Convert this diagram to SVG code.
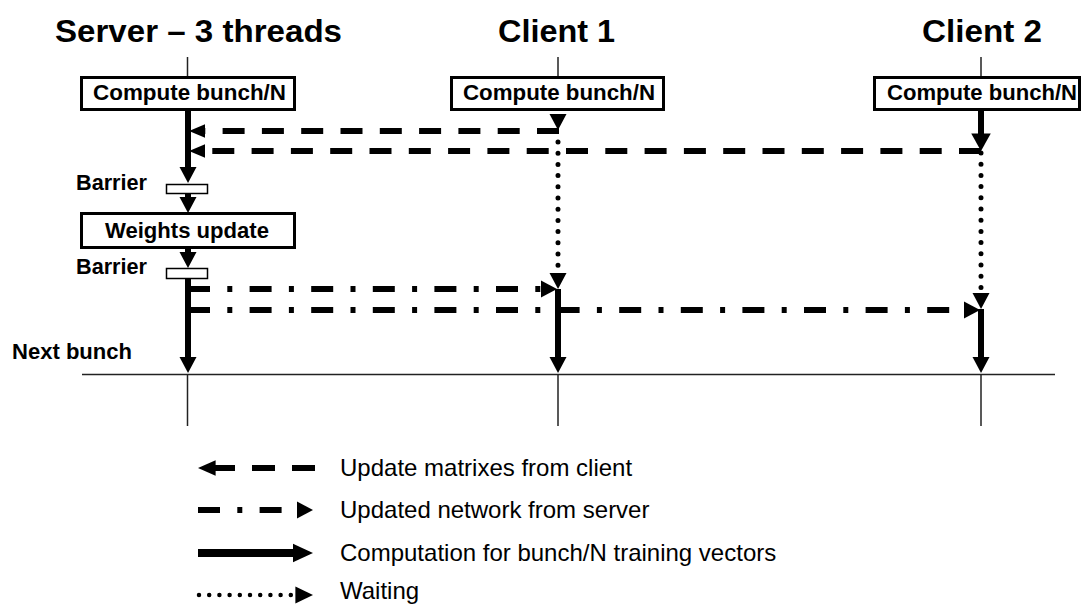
<svg xmlns="http://www.w3.org/2000/svg" xmlns:xlink="http://www.w3.org/1999/xlink" width="1082" height="605" viewBox="0 0 1082 605">
<style>
.title{font-family:"Liberation Sans",Arial,sans-serif;font-weight:bold;font-size:32px;fill:#000}
.lbl{font-family:"Liberation Sans",Arial,sans-serif;font-weight:bold;font-size:22px;fill:#000}
.leg{font-family:"Liberation Sans",Arial,sans-serif;font-size:24px;fill:#000}
.box{fill:#fff;stroke:#000;stroke-width:3}
.bar{fill:#fff;stroke:#000;stroke-width:1.5}
.thin{stroke:#222;stroke-width:1.5;fill:none}
.thick{stroke:#000;stroke-width:6;fill:none}
.dash{stroke:#000;stroke-width:6;fill:none;stroke-dasharray:22 17.3}
.dashdot{stroke:#000;stroke-width:6;fill:none;stroke-dasharray:22 17.3 5 17.3}
.dot{stroke:#000;stroke-width:5;fill:none;stroke-linecap:round;stroke-dasharray:0 11.2}
.ah{fill:#000}
</style>
<defs>
<polygon id="ah" points="0,0 -16,-8.5 -16,8.5"/>
</defs>
<rect width="1082" height="605" fill="#fff"/>

<g id="server">
<text class="title" x="55" y="42" textLength="287" lengthAdjust="spacingAndGlyphs">Server – 3 threads</text>
<line class="thin" x1="187.5" y1="57" x2="187.5" y2="78"/>
<line class="thin" x1="187.5" y1="374" x2="187.5" y2="426"/>
</g>
<g id="client1">
<text class="title" x="498" y="42" textLength="117" lengthAdjust="spacingAndGlyphs">Client 1</text>
<line class="thin" x1="558" y1="57" x2="558" y2="78"/>
<line class="thin" x1="558" y1="374" x2="558" y2="426"/>
</g>
<g id="client2">
<text class="title" x="922" y="42" textLength="120" lengthAdjust="spacingAndGlyphs">Client 2</text>
<line class="thin" x1="981" y1="57" x2="981" y2="78"/>
<line class="thin" x1="981" y1="374" x2="981" y2="426"/>
</g>

<g id="separator">
<line class="thin" x1="82" y1="374.5" x2="1055" y2="374.5"/>
<text class="lbl" x="12" y="359" textLength="120" lengthAdjust="spacingAndGlyphs">Next bunch</text>
</g>

<g id="connectors">
<line class="thick" x1="188" y1="110" x2="188" y2="170"/>
<use href="#ah" class="ah" transform="translate(188,183) rotate(90)"/>
<line class="thick" x1="188" y1="193" x2="188" y2="200"/>
<use href="#ah" class="ah" transform="translate(188,213) rotate(90)"/>
<line class="thick" x1="188" y1="248" x2="188" y2="255"/>
<use href="#ah" class="ah" transform="translate(188,268) rotate(90)"/>
<line class="thick" x1="188" y1="279" x2="188" y2="360"/>
<use href="#ah" class="ah" transform="translate(188,373) rotate(90)"/>

<line class="dash" x1="559" y1="131" x2="204" y2="131"/>
<use href="#ah" class="ah" transform="translate(189,131) rotate(180) scale(1,0.8)"/>
<line class="dash" x1="981" y1="151" x2="204" y2="151"/>
<use href="#ah" class="ah" transform="translate(189,151) rotate(180) scale(1,0.8)"/>

<use href="#ah" class="ah" transform="translate(558,130) rotate(90)"/>
<line class="dot" x1="558" y1="142" x2="558" y2="268"/>
<use href="#ah" class="ah" transform="translate(558,289) rotate(90)"/>

<line class="thick" x1="981" y1="110" x2="981" y2="138"/>
<use href="#ah" class="ah" transform="translate(981,151) rotate(90) scale(1.1,1.15)"/>
<line class="dot" x1="981" y1="153" x2="981" y2="290"/>
<use href="#ah" class="ah" transform="translate(981,309) rotate(90)"/>

<line class="dashdot" x1="188" y1="289" x2="541" y2="289"/>
<use href="#ah" class="ah" transform="translate(557,289)"/>
<line class="dashdot" x1="188" y1="310" x2="965" y2="310"/>
<use href="#ah" class="ah" transform="translate(980,310)"/>

<line class="thick" x1="558" y1="289" x2="558" y2="360"/>
<use href="#ah" class="ah" transform="translate(558,373) rotate(90)"/>
<line class="thick" x1="981" y1="309" x2="981" y2="360"/>
<use href="#ah" class="ah" transform="translate(981,373) rotate(90)"/>
</g>

<g id="server-compute">
<rect class="box" x="81.5" y="77.5" width="213" height="32"/>
<text class="lbl" x="93" y="100" textLength="193" lengthAdjust="spacingAndGlyphs">Compute bunch/N</text>
</g>
<g id="client1-compute">
<rect class="box" x="451.5" y="77.5" width="212" height="32"/>
<text class="lbl" x="463" y="100" textLength="192" lengthAdjust="spacingAndGlyphs">Compute bunch/N</text>
</g>
<g id="client2-compute">
<rect class="box" x="874.5" y="77.5" width="205" height="32"/>
<text class="lbl" x="887" y="100" textLength="190" lengthAdjust="spacingAndGlyphs">Compute bunch/N</text>
</g>
<g id="barrier1">
<rect class="bar" x="166.5" y="184.5" width="41" height="9"/>
<text class="lbl" x="76" y="190" textLength="71" lengthAdjust="spacingAndGlyphs">Barrier</text>
</g>
<g id="weights-update">
<rect class="box" x="81.5" y="213.5" width="213" height="34"/>
<text class="lbl" x="105" y="238" textLength="164" lengthAdjust="spacingAndGlyphs">Weights update</text>
</g>
<g id="barrier2">
<rect class="bar" x="166.5" y="268.5" width="41" height="10"/>
<text class="lbl" x="76" y="274" textLength="71" lengthAdjust="spacingAndGlyphs">Barrier</text>
</g>

<g id="legend">
<line class="dash" x1="315" y1="468" x2="210" y2="468" style="stroke-dasharray:23 17"/>
<use href="#ah" class="ah" transform="translate(198,468) rotate(180) scale(1.1,0.9)"/>
<text class="leg" x="340" y="476">Update matrixes from client</text>

<line class="dashdot" x1="198" y1="510" x2="297" y2="510"/>
<use href="#ah" class="ah" transform="translate(313,510)"/>
<text class="leg" x="340" y="518">Updated network from server</text>

<line class="thick" x1="198" y1="553" x2="296" y2="553" style="stroke-width:8"/>
<use href="#ah" class="ah" transform="translate(313,553) scale(1.25,1.1)"/>
<text class="leg" x="340" y="561">Computation for bunch/N training vectors</text>

<line class="dot" x1="199" y1="595" x2="292" y2="595" style="stroke-width:4.5;stroke-dasharray:0 10.2"/>
<use href="#ah" class="ah" transform="translate(313,595) scale(1.1,1)"/>
<text class="leg" x="340" y="599">Waiting</text>
</g>
</svg>
